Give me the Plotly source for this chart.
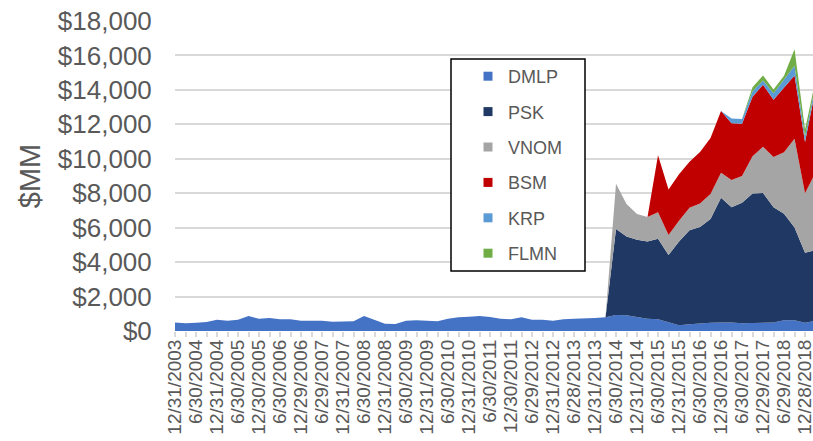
import plotly.graph_objects as go

dates = [
    "12/31/2003", "3/31/2004", "6/30/2004", "9/30/2004", "12/31/2004", "3/31/2005",
    "6/30/2005", "9/30/2005", "12/30/2005", "3/31/2006", "6/30/2006", "9/29/2006",
    "12/29/2006", "3/30/2007", "6/29/2007", "9/28/2007", "12/31/2007", "3/31/2008",
    "6/30/2008", "9/30/2008", "12/31/2008", "3/31/2009", "6/30/2009", "9/30/2009",
    "12/31/2009", "3/31/2010", "6/30/2010", "9/30/2010", "12/31/2010", "3/31/2011",
    "6/30/2011", "9/30/2011", "12/30/2011", "3/30/2012", "6/29/2012", "9/28/2012",
    "12/31/2012", "3/28/2013", "6/28/2013", "9/30/2013", "12/31/2013", "3/31/2014",
    "6/30/2014", "9/30/2014", "12/31/2014", "3/31/2015", "6/30/2015", "9/30/2015",
    "12/31/2015", "3/31/2016", "6/30/2016", "9/30/2016", "12/30/2016", "3/31/2017",
    "6/30/2017", "9/29/2017", "12/29/2017", "3/29/2018", "6/29/2018", "9/28/2018",
    "12/28/2018", "3/29/2019",
]

# labelled categories (every other quarter)
tick_labels = dates[0:61:2]

DMLP = [500, 445, 480, 520, 655, 600, 655, 870, 715, 755,
        680, 680, 600, 600, 600, 540, 540, 560, 870, 640,
        425, 405, 600, 620, 600, 560, 715, 795, 830, 870,
        810, 715, 680, 795, 655, 655, 600, 680, 715, 715,
        755, 795,
        930, 910, 795, 715, 680, 485, 330, 385, 445, 485,
        500, 500, 445, 465, 485, 500, 620, 620, 485, 600]

PSK = [0] * 42 + [4990, 4570, 4505, 4485, 4670, 3925, 4870, 5465, 5595, 6015,
                  7240, 6680, 7005, 7525, 7525, 6680, 6190, 5390, 4065, 4100]

VNOM = [0] * 42 + [2630, 1900, 1490, 1420, 1540, 1160, 1200, 1300, 1360, 1450,
                   1450, 1590, 1550, 2150, 2690, 2920, 3570, 5150, 3450, 4500]

BSM = [0] * 46 + [3310, 2640, 2700, 2680, 3000, 3250, 3580, 3290, 3030, 3460,
                  3600, 3330, 3780, 3680, 2970, 4840]

KRP = [0] * 53 + [280, 280, 320, 250, 380, 420, 560, 330, 260]

FLMN = [0] * 55 + [230, 290, 210, 240, 960, 400, 260]

series_names = ["DMLP", "PSK", "VNOM", "BSM", "KRP", "FLMN"]
series_values = [DMLP, PSK, VNOM, BSM, KRP, FLMN]
series_colors = ["#4472C4", "#203864", "#A5A5A5", "#C00000", "#5B9BD5", "#70AD47"]

TEXT = "#595959"
FONT = "Liberation Sans"

fig = go.Figure()
for name, vals, col in zip(series_names, series_values, series_colors):
    fig.add_trace(go.Scatter(
        x=dates, y=vals, name=name, stackgroup="one", mode="lines",
        line=dict(width=0, color=col), fillcolor=col,
        showlegend=False, legendgroup=name,
    ))
for name, col in zip(series_names, series_colors):
    fig.add_trace(go.Scatter(
        x=[None], y=[None], name=name, mode="markers",
        marker=dict(symbol="square", size=9, color=col),
        legendgroup=name, showlegend=True,
    ))

L, R, T, B = 175, 0, 21, 110
W, H = 813, 441
pw, ph = W - L - R, H - T - B

def px_x(x):
    return (x - L) / pw

def px_y(y):
    return (H - B - y) / ph

fig.add_shape(type="rect", xref="paper", yref="paper",
              x0=px_x(451), x1=px_x(585), y0=px_y(271), y1=px_y(59),
              line=dict(color="black", width=1.5), fillcolor="white", layer="above")

fig.update_layout(
    width=W, height=H,
    margin=dict(l=L, r=R, t=T, b=B, pad=0, autoexpand=False),
    paper_bgcolor="white", plot_bgcolor="white",
    font=dict(family=FONT, color=TEXT),
    showlegend=True,
    legend=dict(
        x=px_x(468), xanchor="left", y=px_y(58), yanchor="top",
        bgcolor="rgba(0,0,0,0)", borderwidth=0,
        font=dict(size=18, color=TEXT, family=FONT),
        traceorder="grouped", tracegroupgap=9, itemwidth=30,
    ),
    xaxis=dict(
        type="category", range=[0, 60.76], automargin=False,
        tickmode="array", tickvals=dates,
        ticktext=[d if d in tick_labels else "" for d in dates],
        tickangle=-90, ticks="outside", ticklen=5, tickwidth=1.5,
        tickcolor="#D9D9D9", showgrid=False, showline=False, zeroline=False,
        ticklabelstandoff=-5,
        tickfont=dict(size=19, color=TEXT, family=FONT),
    ),
    yaxis=dict(
        range=[0, 18000], dtick=2000, tickprefix="$", tickformat=",d",
        automargin=False,
        showgrid=True, gridcolor="#D9D9D9", gridwidth=1.7, zeroline=False,
        showline=False, ticks="outside", ticklen=17, tickcolor="rgba(0,0,0,0)",
        tickfont=dict(size=26, color=TEXT, family=FONT),
        title=dict(text="$MM", font=dict(size=29, color=TEXT, family=FONT), standoff=8),
    ),
)

fig.write_html("out.html", config={"displayModeBar": False},
               post_script="document.body.style.margin='0';")
